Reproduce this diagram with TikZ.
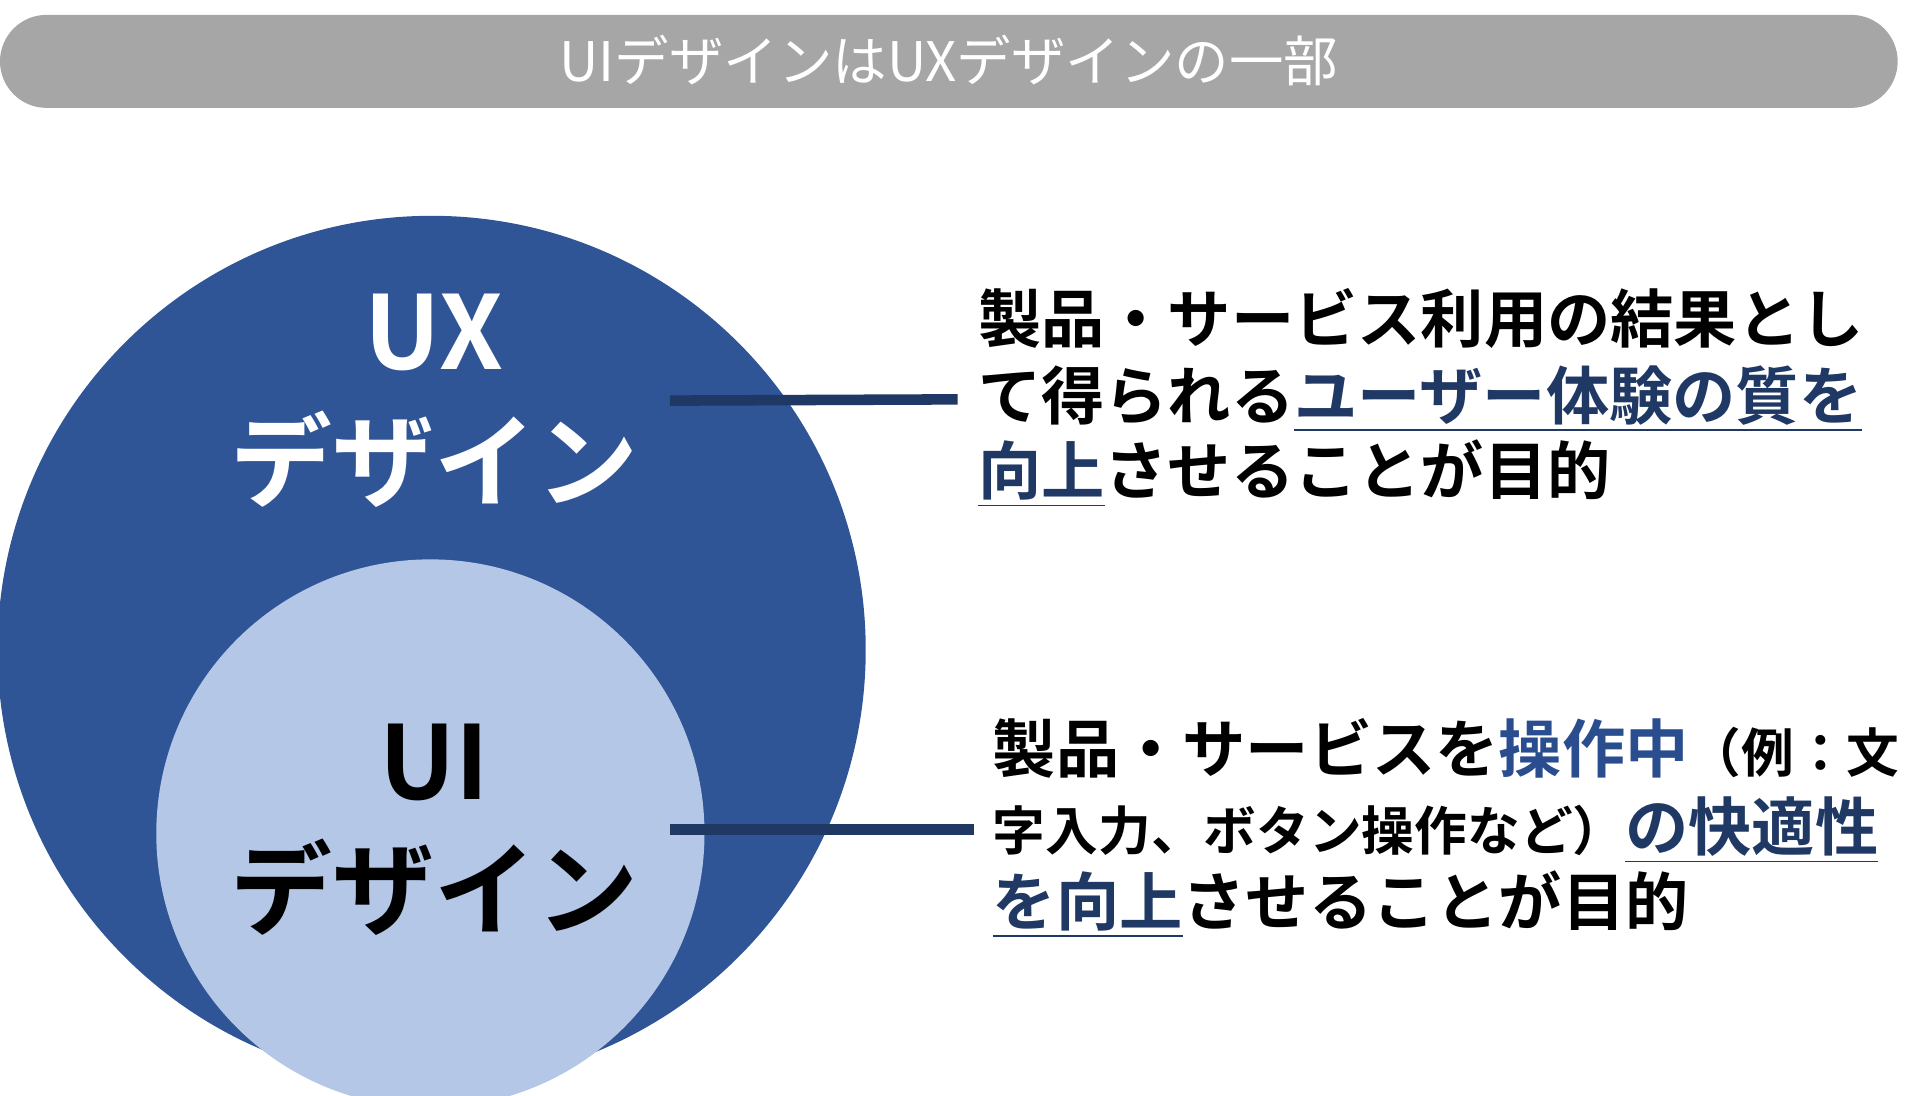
\documentclass[tikz,border=0pt]{standalone}
\usepackage{fontspec}
\newfontfamily\jp{Noto Sans CJK JP}[BoldFont={Noto Sans CJK JP Bold}]
\definecolor{bigc}{HTML}{2F5597}
\definecolor{smallc}{HTML}{B4C7E7}
\definecolor{navy}{HTML}{1F3864}
\definecolor{bar}{HTML}{A6A6A6}
\definecolor{blu}{HTML}{2A4D8F}
\newcommand{\ul}[1]{\underline{#1}}
\begin{document}
\begin{tikzpicture}[x=0.0124cm,y=-0.0124cm,
  every node/.style={inner sep=0pt,font=\jp\bfseries},
  body/.style={anchor=base west,font=\jp\bfseries\fontsize{18}{18}\selectfont},
  big/.style={font=\jp\bfseries\fontsize{29}{29}\selectfont},
  conn/.style={navy,line width=3pt}]
\useasboundingbox (0,0) rectangle (1548,883);
\fill[bar] (0,12) [rounded corners=37.5*0.0124cm] rectangle (1530,87);
\node[font=\jp\fontsize{15.5}{15.5}\selectfont,text=white] (title) at (765,49) {UIデザインはUXデザインの一部};
\begin{scope}
\clip (0,0) rectangle (1548,883);
\fill[bigc] (348,524) circle (350);
\fill[smallc] (347,672) circle (221);
\end{scope}
\node[big,text=white] (ux1) at (350,268) {UX};
\node[big,text=white] (ux2) at (350,370) {デザイン};
\node[big,text=black] (ui1) at (350,615) {UI};
\node[big,text=black] (ui2) at (350,715) {デザイン};
\coordinate (a1) at (540,323);
\coordinate (t1) at (772,322);
\coordinate (a2) at (540,669);
\coordinate (t2) at (785,669);
\draw[conn] (a1) -- (t1);
\draw[conn] (a2) -- (t2);
\node[body] (l11) at (788,276) {製品・サービス利用の結果とし};
\node[body] (l12) at (788,338) {て得られる{\color{navy}\ul{ユーザー体験の質を}}};
\node[body] (l13) at (788,399) {{\color{navy}\ul{向上}}させることが目的};
\node[body] (l21) at (800,623) {製品・サービスを{\color{blu}操作中}{\fontsize{15}{15}\selectfont（例：文}};
\node[body] (l22) at (800,686) {{\fontsize{15}{15}\selectfont 字入力、ボタン操作など）}{\color{navy}\ul{の快適性}}};
\node[body] (l23) at (800,746) {{\color{navy}\ul{を向上}}させることが目的};
\end{tikzpicture}
\end{document}
